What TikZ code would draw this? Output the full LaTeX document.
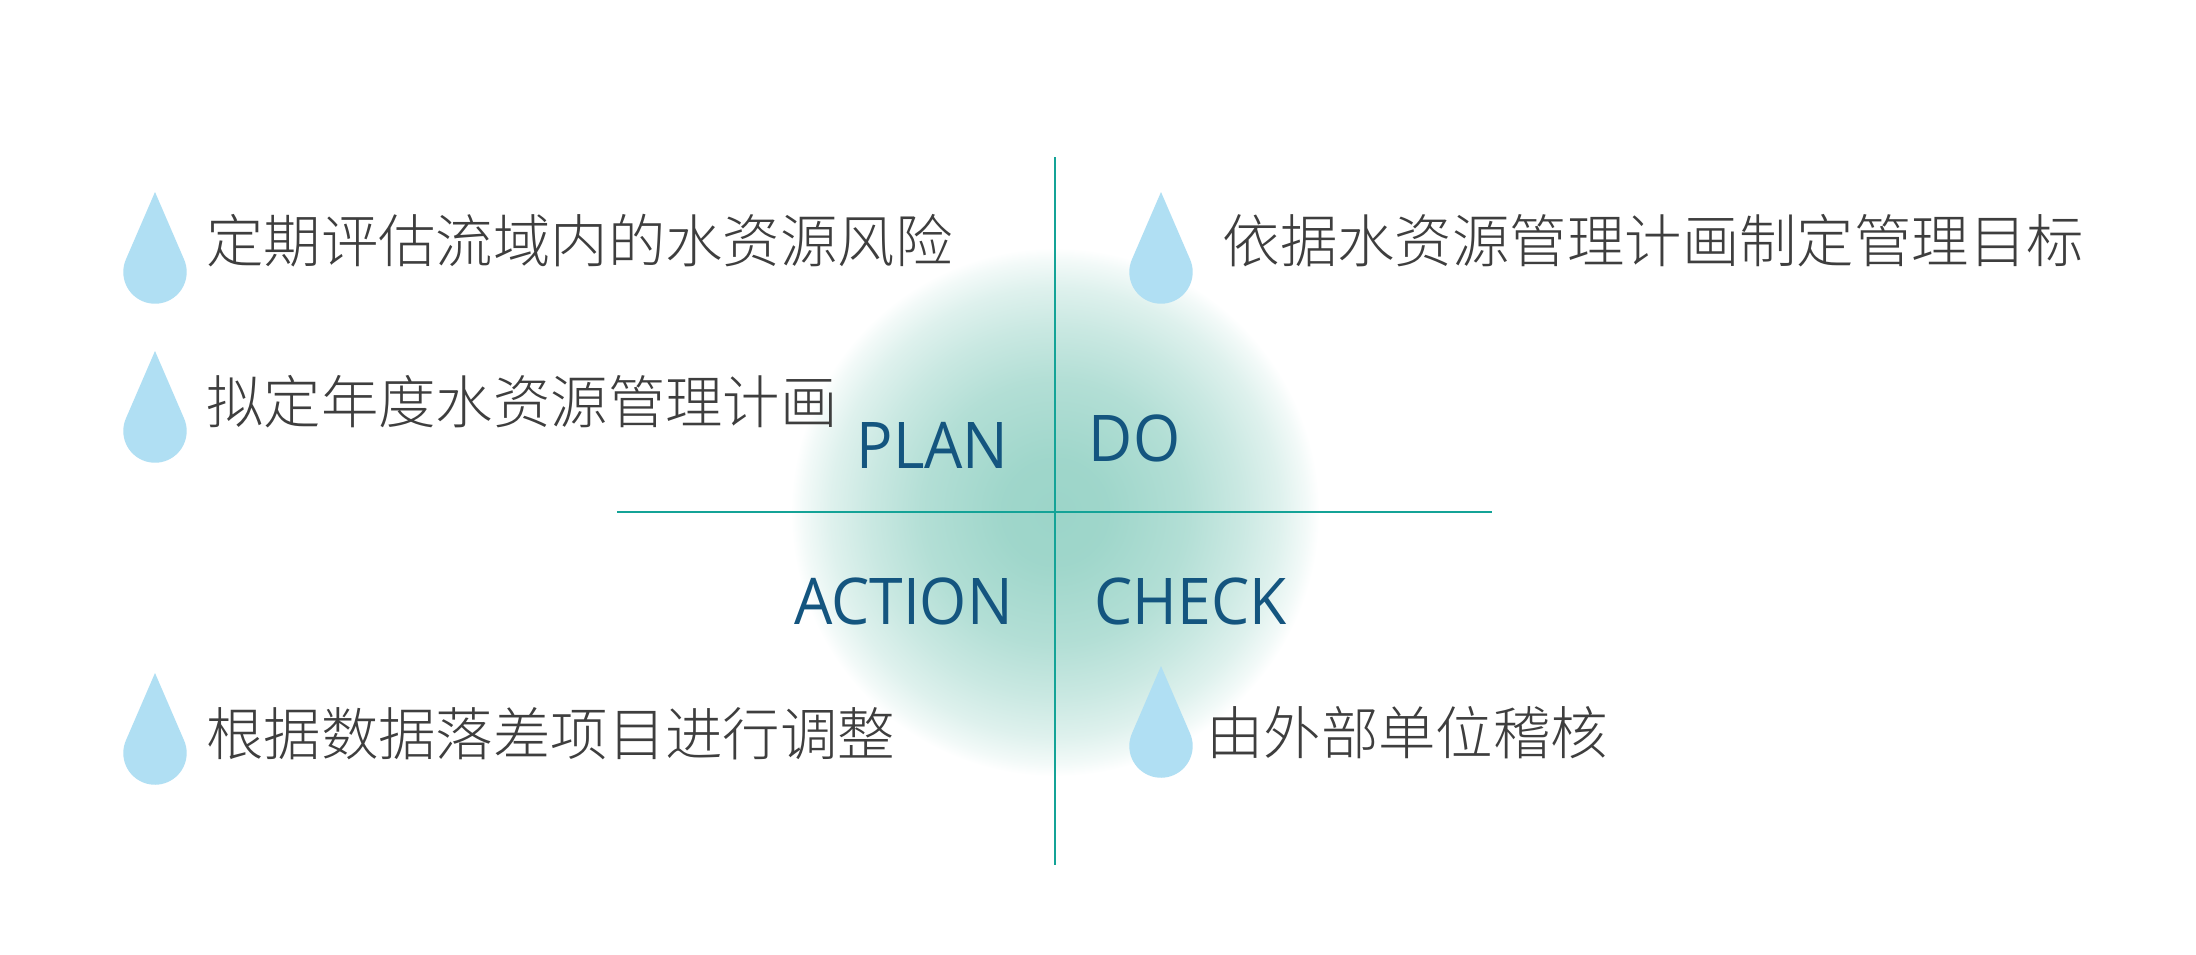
\documentclass[tikz,border=0pt]{standalone}
\usepackage{fontspec}
\setmainfont[FakeStretch=0.94]{Open Sans}
\newfontfamily\cjk{Noto Sans CJK SC Light}
\definecolor{glowc}{HTML}{9CD5C9}
\definecolor{dropc}{HTML}{B0DFF3}
\definecolor{crossc}{HTML}{14A397}
\definecolor{inkc}{HTML}{3E3E3E}
\definecolor{labc}{HTML}{14557F}
\pgfdeclareradialshading{glow}{\pgfpoint{0bp}{0bp}}{
  color(0bp)=(glowc); color(10bp)=(glowc!97!white); color(25bp)=(glowc!77!white);
  color(35bp)=(glowc!54!white); color(42.5bp)=(glowc!33!white); color(47.5bp)=(glowc!13!white); color(50bp)=(white)}
\tikzset{
  x=0.03cm,y=-0.03cm,
  cjktext/.style={anchor=west,inner sep=0pt,text=inkc,font=\fontsize{49}{49}\selectfont\cjk},
  pdca/.style={inner sep=0pt,text=labc,font=\fontsize{55}{55}\selectfont},
  crossline/.style={draw=crossc,line width=1.5pt},
  pics/waterdrop/.style={code={
    \fill[dropc] (0,-80) -- (29.1,-12.5) arc[start angle=-23.3,end angle=203.3,radius=31.7] -- cycle;}}
}
\begin{document}
\begin{tikzpicture}
\useasboundingbox (0,0) rectangle (2196,954);
\fill[white] (0,0) rectangle (2196,954);
\node[inner sep=0pt] (glowdisc) at (1055,512) {\scalebox{4.495}{\pgfuseshading{glow}}};
\coordinate (vt) at (1055,157); \coordinate (vb) at (1055,865);
\coordinate (hl) at (617,512); \coordinate (hr) at (1492,512);
\draw[crossline] (vt) -- (vb);
\draw[crossline] (hl) -- (hr);
\pic at (155,272) {waterdrop};
\pic at (155,431) {waterdrop};
\pic at (155,753) {waterdrop};
\pic at (1161,272) {waterdrop};
\pic at (1161,746) {waterdrop};
\node[cjktext] (t1) at (206,241) {定期评估流域内的水资源风险};
\node[cjktext] (t2) at (206,401.5) {拟定年度水资源管理计画};
\node[cjktext] (t3) at (206,733.5) {根据数据落差项目进行调整};
\node[cjktext] (t4) at (1222.5,241) {依据水资源管理计画制定管理目标};
\node[cjktext] (t5) at (1206,732.5) {由外部单位稽核};
\node[pdca] (plan) at (932.5,445) {PLAN};
\node[pdca] (do) at (1134.5,438) {DO};
\node[pdca] (action) at (903.5,601.5) {ACTION};
\node[pdca] (check) at (1190.5,601.5) {CHECK};
\end{tikzpicture}
\end{document}
